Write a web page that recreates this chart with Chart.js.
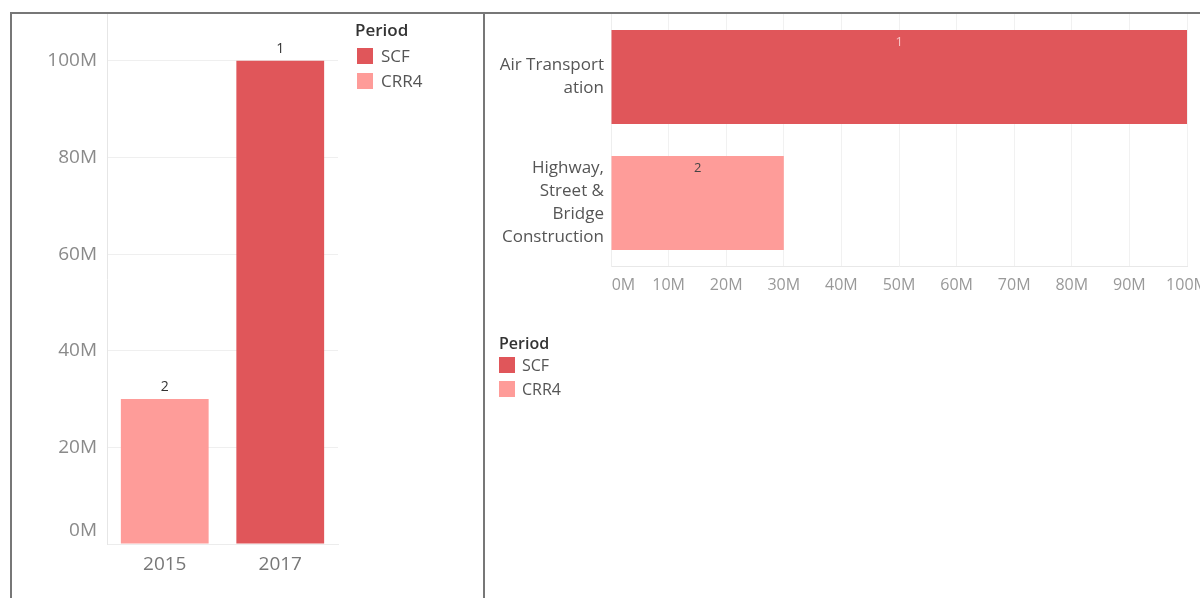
<!DOCTYPE html>
<html>
<head>
<meta charset="utf-8">
<script src="https://cdn.jsdelivr.net/npm/chart.js@4"></script>
<style>
  html, body { margin: 0; padding: 0; background: #fff; width: 1200px; height: 598px; overflow: hidden; }
  .frame { position: absolute; box-sizing: border-box; border: 0 solid #777; }
  #frameLeft  { left: 10px;  top: 12px; width: 475px; height: 600px; border-width: 2px 2px 0 2px; }
  #frameRight { left: 483px; top: 12px; width: 720px; height: 600px; border-top-width: 2px; }
  .wrap { position: absolute; }
  #wrapLeft  { left: 13px;  top: 14px; width: 468px; height: 584px; }
  #wrapRight { left: 485px; top: 14px; width: 760px; height: 584px; }
</style>
</head>
<body>
<div class="frame" id="frameLeft"></div>
<div class="frame" id="frameRight"></div>
<div class="wrap" id="wrapLeft"><canvas id="yearChart"></canvas></div>
<div class="wrap" id="wrapRight"><canvas id="industryChart"></canvas></div>
<script>
'use strict';

// --- data ---
const years       = ['2015', '2017'];
const yearScf     = [null, 100000000];
const yearCrr4    = [30000000, null];
const yearRanks   = ['2', '1'];

const industries  = [['Air Transport', 'ation'], ['Highway,', 'Street &', 'Bridge', 'Construction']];
const indScf      = [100000000, null];
const indCrr4     = [null, 30000000];
const indRanks    = ['1', '2'];

const yTicks      = [0, 20000000, 40000000, 60000000, 80000000, 100000000];
const xTicks      = [0, 10000000, 20000000, 30000000, 40000000, 50000000,
                     60000000, 70000000, 80000000, 90000000, 100000000];

const SCF_COLOR  = '#e0565a';
const CRR4_COLOR = '#fe9c99';
const FONT = '"Open Sans", "Noto Sans", sans-serif';

const fmtM = v => Math.round(v / 1000000) + 'M';

// scales report no extra padding, so the chart area is placed only by layout.padding
const noPad = s => { s.paddingTop = 0; s.paddingBottom = 0; s.paddingLeft = 0; s.paddingRight = 0; };

// rank numbers written on/above each bar
const rankLabels = {
    id: 'rankLabels',
    afterDatasetsDraw(chart, args, opts) {
        const ctx = chart.ctx;
        ctx.save();
        ctx.font = opts.size + 'px ' + FONT;
        ctx.textAlign = 'center';
        chart.data.datasets.forEach((ds, di) => {
            chart.getDatasetMeta(di).data.forEach((el, i) => {
                if (ds.data[i] == null) return;
                ctx.fillStyle = opts.colors[di];
                if (opts.horizontal) {
                    ctx.textBaseline = 'middle';
                    ctx.fillText(opts.ranks[i], (el.x + el.base) / 2, el.y - el.height / 2 + 12);
                } else {
                    ctx.textBaseline = 'bottom';
                    ctx.fillText(opts.ranks[i], el.x, el.y - 5);
                }
            });
        });
        ctx.restore();
    }
};

// "Period" colour legend, stacked vertically
const periodLegend = {
    id: 'periodLegend',
    afterDraw(chart, args, o) {
        const ctx = chart.ctx;
        ctx.save();
        ctx.textBaseline = 'middle';
        ctx.textAlign = 'left';
        ctx.fillStyle = '#333';
        ctx.font = '600 ' + o.titleSize + 'px ' + FONT;
        ctx.fillText('Period', o.x, o.y);
        ctx.font = o.size + 'px ' + FONT;
        chart.data.datasets.forEach((ds, i) => {
            const top = o.first + i * o.step;
            ctx.fillStyle = ds.backgroundColor;
            ctx.fillRect(o.x + o.sx, top, 16, 16);
            ctx.fillStyle = '#555';
            ctx.fillText(ds.label, o.textX, top + 9);
        });
        ctx.restore();
    }
};

const common = {
    responsive: true,
    maintainAspectRatio: false,
    animation: false,
    events: [],
};

new Chart(document.getElementById('yearChart'), {
    type: 'bar',
    data: {
        labels: years,
        datasets: [
            { label: 'SCF',  data: yearScf,  backgroundColor: SCF_COLOR },
            { label: 'CRR4', data: yearCrr4, backgroundColor: CRR4_COLOR }
        ]
    },
    options: Object.assign({}, common, {
        layout: { padding: { left: 0, right: 143, top: 0, bottom: 0 } },
        datasets: { bar: { grouped: false, categoryPercentage: 1, barPercentage: 0.76, borderWidth: 0 } },
        plugins: {
            legend: { display: false },
            tooltip: { enabled: false },
            rankLabels: { ranks: yearRanks, size: 14, colors: ['#333', '#333'] },
            periodLegend: { x: 342, y: 17, sx: 2, first: 34, step: 25, textX: 368, size: 17, titleSize: 17 }
        },
        scales: {
            x: {
                grid: { display: false },
                border: { display: true, color: '#ececec' },
                ticks: { color: '#777', font: { family: FONT, size: 19 }, padding: 1 },
                afterFit: s => { noPad(s); s.height = 54; }
            },
            y: {
                min: 0, max: 109700000,
                afterBuildTicks: s => { s.ticks = yTicks.map(v => ({ value: v })); },
                grid: { color: '#efefef', drawTicks: false },
                border: { display: true, color: '#e6e6e6' },
                // the bottom label sits a line higher so it clears the x axis
                ticks: { color: '#8a8a8a', font: { family: FONT, size: 19, lineHeight: '26px' }, padding: 10,
                         callback: v => v === 0 ? [fmtM(v), ''] : fmtM(v) },
                afterFit: s => { noPad(s); s.width = 94; }
            }
        }
    }),
    plugins: [rankLabels, periodLegend]
});

new Chart(document.getElementById('industryChart'), {
    type: 'bar',
    data: {
        labels: industries,
        datasets: [
            { label: 'SCF',  data: indScf,  backgroundColor: SCF_COLOR },
            { label: 'CRR4', data: indCrr4, backgroundColor: CRR4_COLOR }
        ]
    },
    options: Object.assign({}, common, {
        indexAxis: 'y',
        layout: { padding: { left: 0, right: 58, top: 0, bottom: 0 } },
        datasets: { bar: { grouped: false, categoryPercentage: 1, barPercentage: 0.745, borderWidth: 0 } },
        plugins: {
            legend: { display: false },
            tooltip: { enabled: false },
            rankLabels: { ranks: indRanks, size: 13, horizontal: true, colors: ['#f6c4c4', '#444'] },
            periodLegend: { x: 14, y: 330, sx: 0, first: 343, step: 24, textX: 37, size: 16, titleSize: 16 }
        },
        scales: {
            x: {
                min: 0, max: 100000000,
                afterBuildTicks: s => { s.ticks = xTicks.map(v => ({ value: v })); },
                grid: { color: '#f1f1f1', drawTicks: false },
                border: { display: true, color: '#e8e8e8' },
                // first label nudged right of the axis start
                ticks: { color: '#999', font: { family: FONT, size: 16 }, padding: 10,
                         maxRotation: 0, autoSkip: false,
                         callback: v => v === 0 ? '      ' + fmtM(v) : fmtM(v) },
                afterFit: s => { noPad(s); s.height = 332; }
            },
            y: {
                grid: { display: false, drawTicks: false },
                border: { display: true, color: '#eeeeee' },
                ticks: { color: '#555', font: { family: FONT, size: 17, lineHeight: '23px' }, padding: 7 },
                afterFit: s => { noPad(s); s.width = 126; }
            }
        }
    }),
    plugins: [rankLabels, periodLegend]
});
</script>
</body>
</html>
